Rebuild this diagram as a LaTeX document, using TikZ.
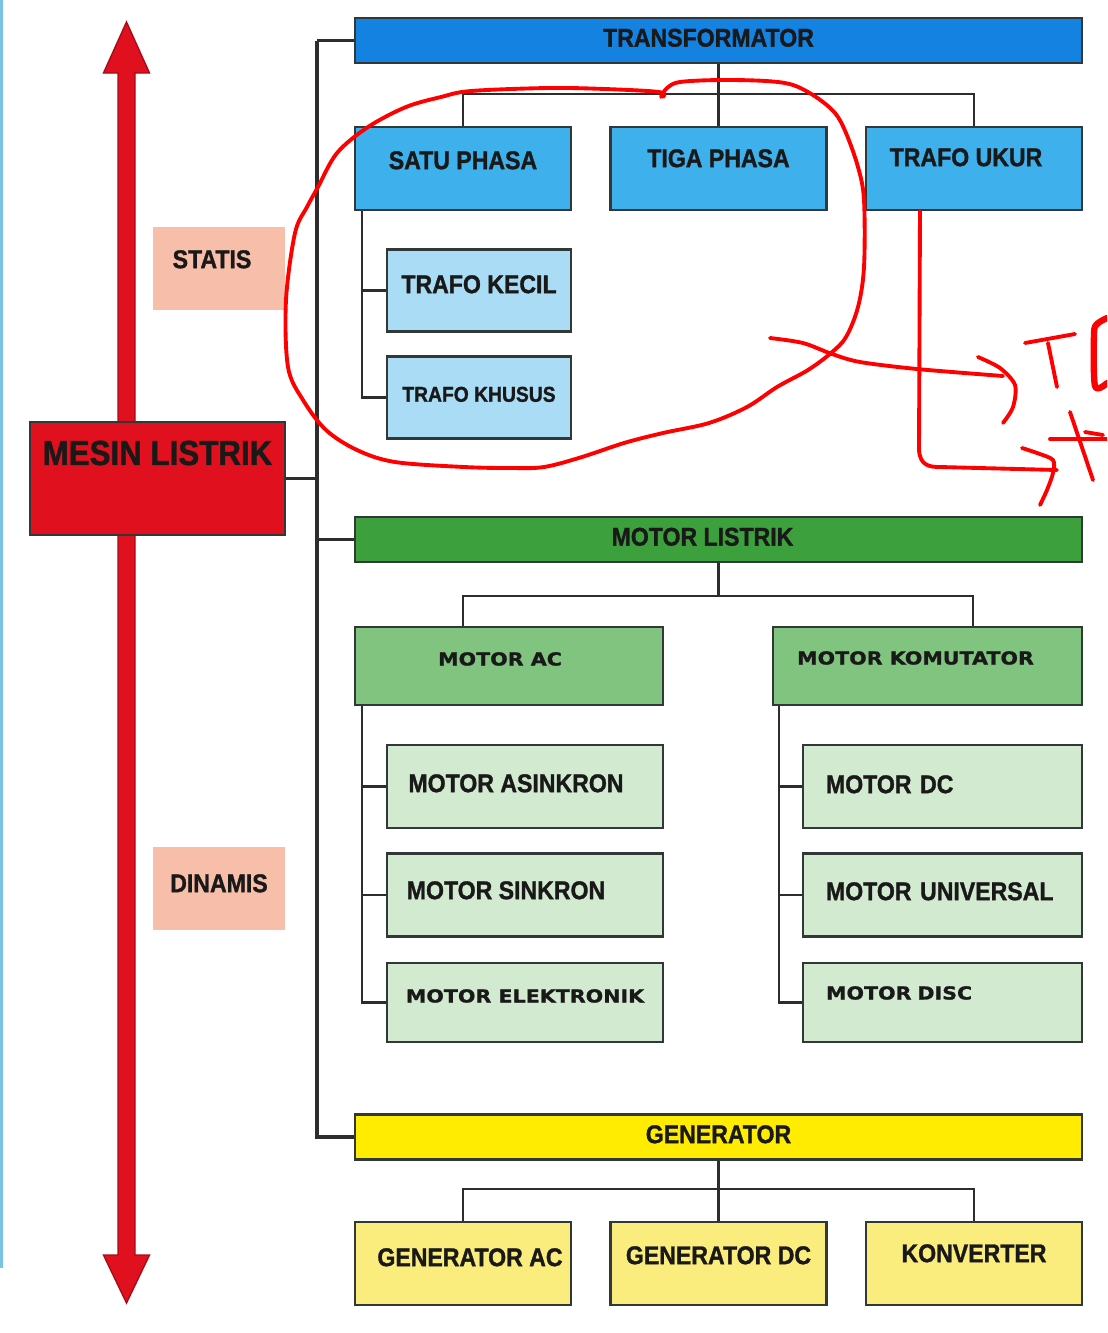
\documentclass[tikz,border=0pt]{standalone}
\usepackage{fontspec}
\setmainfont{Liberation Sans}[FakeStretch=0.9, BoldFeatures={FakeBold=1.2}]
\newfontfamily\widefont{DejaVu Sans}[FakeStretch=1.15, BoldFeatures={FakeBold=1.2}]
\definecolor{tblue}{RGB}{20,130,225}
\definecolor{tbluemid}{RGB}{62,176,236}
\definecolor{tbluelow}{RGB}{170,220,246}
\definecolor{mgreen}{RGB}{60,160,60}
\definecolor{mgreenmid}{RGB}{128,196,128}
\definecolor{mgreenlow}{RGB}{210,234,208}
\definecolor{gyellow}{RGB}{255,236,0}
\definecolor{gyellowlow}{RGB}{250,236,125}
\definecolor{mesinred}{RGB}{224,16,30}
\definecolor{sidepink}{RGB}{247,190,170}
\definecolor{boxline}{RGB}{50,55,55}
\definecolor{linegray}{RGB}{45,45,45}
\definecolor{edgeblue}{RGB}{120,195,225}
\definecolor{penred}{RGB}{255,0,0}
\tikzset{
  box/.style={draw=boxline, line width=0.6pt, inner sep=0pt, text=black!90,
    font=\fontsize{7.3}{8}\selectfont\bfseries, text height=5.2pt, text depth=0.14cm},
  wide/.style={font=\widefont\fontsize{5.1}{6}\selectfont\bfseries, text height=3.7pt},
  bar/.style={box, minimum width=7.27cm, minimum height=0.45cm, text depth=0.06cm},
  midbox/.style={box, minimum width=2.16cm, minimum height=0.83cm},
  subbox/.style={box, minimum width=1.84cm, minimum height=0.82cm},
  motorbox/.style={box, minimum width=3.08cm, minimum height=0.78cm},
  leftsub/.style={box, minimum width=2.76cm, minimum height=0.83cm},
  rightsub/.style={box, minimum width=2.79cm, minimum height=0.83cm,
    text width=2.33cm, align=left},
  conn/.style={draw=linegray, line width=0.7pt},
  trunkline/.style={draw=linegray, line width=1pt},
  pen/.style={draw=penred, line width=1.1pt, line cap=round, line join=round}
}
\begin{document}
\begin{tikzpicture}
\useasboundingbox (0,0) rectangle (11.07,-13.33);
\clip (0,0) rectangle (11.07,-13.33);
% left edge of the page
\draw[edgeblue, line width=1pt] (0.015,0) -- (0.015,-12.68);
% statis / dinamis double arrow
\fill[mesinred, draw=mesinred!75!black, line width=0.4pt]
  (1.265,-0.22) -- (1.495,-0.73) -- (1.35,-0.73) -- (1.35,-12.55) -- (1.495,-12.55)
  -- (1.265,-13.03) -- (1.035,-12.55) -- (1.18,-12.55) -- (1.18,-0.73) -- (1.035,-0.73) -- cycle;
\node[box, fill=mesinred, minimum width=2.55cm, minimum height=1.13cm,
  font=\fontsize{9.9}{11}\selectfont\bfseries, text height=7.1pt, text depth=0.52cm] (mesin) at (1.575,-4.785) {MESIN LISTRIK};
\node[box, draw=none, fill=sidepink, minimum width=1.32cm, minimum height=0.83cm, text depth=0.19cm] (statis) at (2.19,-2.685) {STATIS\kern0.14cm};
\node[box, draw=none, fill=sidepink, minimum width=1.32cm, minimum height=0.83cm, text depth=0.10cm] (dinamis) at (2.19,-8.88) {DINAMIS};
% transformator
\node[bar, fill=tblue] (trafo) at (7.185,-0.405) {TRANSFORMATOR\kern0.2cm};
\node[midbox, fill=tbluemid, text depth=0.17cm] (satu) at (4.63,-1.685) {SATU PHASA};
\node[midbox, fill=tbluemid, text depth=0.21cm] (tiga) at (7.185,-1.685) {TIGA PHASA};
\node[midbox, fill=tbluemid, text depth=0.23cm] (ukur) at (9.74,-1.685) {TRAFO UKUR\kern0.16cm};
\node[subbox, fill=tbluelow, text depth=0.13cm] (kecil) at (4.79,-2.905) {TRAFO KECIL};
\node[subbox, fill=tbluelow, font=\fontsize{6.1}{7}\selectfont\bfseries, text height=4.4pt, text depth=0.07cm] (khusus) at (4.79,-3.975) {TRAFO KHUSUS};
% motor listrik
\node[bar, fill=mgreen] (motor) at (7.185,-5.395) {MOTOR LISTRIK\kern0.32cm};
\node[motorbox, wide, fill=mgreenmid] (mac) at (5.09,-6.66) {MOTOR AC\kern0.18cm};
\node[motorbox, wide, fill=mgreenmid, minimum width=3.09cm, text depth=0.16cm] (mkom) at (9.275,-6.66) {MOTOR KOMUTATOR\kern0.24cm};
\node[leftsub, fill=mgreenlow, text depth=0.07cm] (masink) at (5.25,-7.865) {MOTOR ASINKRON\kern0.18cm};
\node[leftsub, fill=mgreenlow, text depth=0.10cm] (msink) at (5.25,-8.95) {MOTOR SINKRON\kern0.38cm};
\node[leftsub, wide, fill=mgreenlow, minimum height=0.79cm, text depth=0.13cm] (melek) at (5.25,-10.025) {MOTOR ELEKTRONIK};
\node[rightsub, fill=mgreenlow, text depth=0.05cm] (mdc) at (9.425,-7.865) {MOTOR DC};
\node[rightsub, fill=mgreenlow, text depth=0.08cm] (muni) at (9.425,-8.95) {MOTOR UNIVERSAL};
\node[rightsub, wide, fill=mgreenlow, minimum height=0.79cm, text depth=0.19cm] (mdisc) at (9.425,-10.025) {MOTOR DISC};
% generator
\node[bar, fill=gyellow] (gen) at (7.185,-11.37) {GENERATOR};
\node[midbox, fill=gyellowlow, text depth=0.13cm] (genac) at (4.63,-12.635) {\kern0.14cm GENERATOR AC};
\node[midbox, fill=gyellowlow, text depth=0.17cm] (gendc) at (7.185,-12.635) {GENERATOR DC};
\node[midbox, fill=gyellowlow, text depth=0.21cm] (konv) at (9.74,-12.635) {KONVERTER};
% trunk
\draw[trunkline] (trafo.west) -- ++(-0.37,0) coordinate (trunk);
\draw[trunkline] (trunk) |- (gen.west);
\draw[trunkline] (motor.west) -- (motor.west -| trunk);
\draw[trunkline] (mesin.east) -- (mesin.east -| trunk);
% branches
\draw[conn] (trafo.south) -- (tiga.north);
\draw[conn] (satu.north) -- ++(0,0.32) -| (ukur.north);
\draw[conn] ([xshift=0.08cm]satu.south west) |- (kecil.west);
\draw[conn] ([xshift=0.08cm]satu.south west) |- (khusus.west);
\draw[conn] (motor.south) -- ++(0,-0.33) coordinate (mfork);
\draw[conn] ([xshift=-0.46cm]mac.north) |- (mfork) -| ([xshift=0.455cm]mkom.north);
\foreach \n in {masink,msink,melek}
  \draw[conn] ([xshift=0.08cm]mac.south west) |- (\n.west);
\foreach \n in {mdc,muni,mdisc}
  \draw[conn] ([xshift=0.07cm]mkom.south west) |- (\n.west);
\draw[conn] (gen.south) -- (gendc.north);
\draw[conn] (genac.north) -- ++(0,0.32) -| (konv.north);
% hand marks
\draw[pen] plot[smooth, tension=0.55] coordinates {(6.61,-0.97) (6.67,-0.88) (6.80,-0.82)
  (7.20,-0.80) (7.66,-0.81) (7.93,-0.85) (8.16,-0.97) (8.35,-1.13) (8.46,-1.33) (8.58,-1.67)
  (8.64,-2.00) (8.64,-2.67) (8.58,-3.07) (8.46,-3.37) (8.31,-3.53) (8.08,-3.70) (7.77,-3.87)
  (7.47,-4.07) (7.09,-4.23) (6.63,-4.33) (6.24,-4.43) (5.82,-4.57) (5.44,-4.67) (5.10,-4.68)
  (4.64,-4.67) (3.95,-4.62) (3.57,-4.50) (3.26,-4.30) (3.03,-4.00) (2.88,-3.67) (2.86,-3.00)
  (2.95,-2.33) (3.07,-2.07) (3.18,-1.87) (3.37,-1.53) (3.68,-1.27) (4.06,-1.07) (4.41,-0.97)
  (4.71,-0.91) (5.48,-0.88) (6.05,-0.89) (6.59,-0.92) (6.63,-0.97)};
\draw[pen] plot[smooth, tension=0.5] coordinates {(7.70,-3.38) (8.03,-3.43) (8.32,-3.54)
  (8.60,-3.62) (9.17,-3.69) (10.03,-3.76)};
\draw[pen] plot[smooth, tension=0.5] coordinates {(9.78,-3.57) (10.00,-3.68) (10.15,-3.85)
  (10.13,-4.07) (10.03,-4.23)};
\draw[pen] ([xshift=-0.54cm]ukur.south) -- (9.19,-4.50)
  .. controls (9.20,-4.66) and (9.30,-4.67) .. (9.40,-4.67) -- (10.57,-4.70);
\draw[pen] plot[smooth, tension=0.5] coordinates {(10.22,-4.48) (10.37,-4.53) (10.53,-4.60)
  (10.53,-4.73) (10.47,-4.90) (10.40,-5.05)};
\draw[pen] (10.25,-3.43) -- (10.75,-3.34);
\draw[pen] (10.48,-3.43) -- (10.57,-3.87);
\draw[pen, line width=1.8pt] plot[smooth, tension=0.5] coordinates {(11.07,-3.18) (10.97,-3.24)
  (10.94,-3.34) (10.95,-3.86) (11.07,-3.83)};
\draw[pen] (10.70,-4.12) -- (10.93,-4.80);
\draw[pen] (10.50,-4.39) -- (11.07,-4.39);
\draw[pen] (10.85,-4.32) -- (11.03,-4.35);
\end{tikzpicture}
\end{document}
